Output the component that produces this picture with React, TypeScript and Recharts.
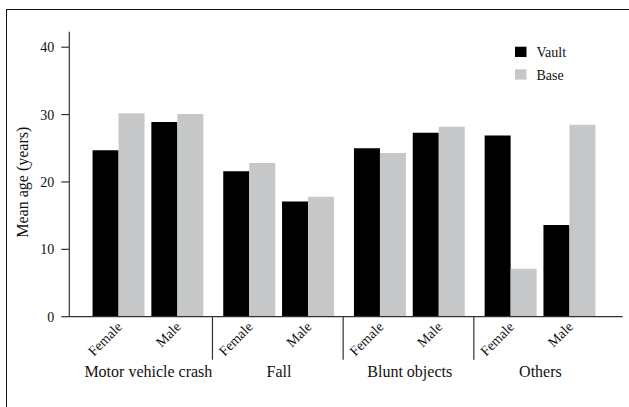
import React from 'react';
import { BarChart, Bar, XAxis, YAxis, Legend } from 'recharts';

const groups = ['Motor vehicle crash', 'Fall', 'Blunt objects', 'Others'];
const sexes = ['Female', 'Male'];
const vaultValues = [24.7, 28.9, 21.6, 17.1, 25.0, 27.3, 26.9, 13.6];
const baseValues = [30.2, 30.1, 22.8, 17.8, 24.3, 28.2, 7.1, 28.5];
const yTicks = [0, 10, 20, 30, 40];

const FONT = '"Liberation Serif", "Times New Roman", serif';
const VAULT_COLOR = '#000000';
const BASE_COLOR = '#c6c7c9';
const AXIS_COLOR = '#333333';

// layout of a group slot along the numeric x axis (one unit per group)
const SEX_OFFSET = [0.2846, 0.7345];
const X_DOMAIN = [-0.0953, 4.1389];

const data = groups.flatMap((g, gi) =>
  sexes.map((s, si) => ({
    pos: gi + SEX_OFFSET[si],
    group: g,
    sex: s,
    vault: vaultValues[gi * 2 + si],
    base: baseValues[gi * 2 + si],
  }))
);

type TickInfo = { v: number; kind: 'sex' | 'sep' | 'group'; text: string };
const tickInfo: TickInfo[] = [
  ...data.map((d) => ({ v: d.pos, kind: 'sex' as const, text: d.sex })),
  ...groups.slice(1).map((_, i) => ({ v: i + 1, kind: 'sep' as const, text: '' })),
  ...groups.map((g, gi) => ({
    v: gi + (SEX_OFFSET[0] + SEX_OFFSET[1]) / 2,
    kind: 'group' as const,
    text: g,
  })),
];
const xTicks = tickInfo.map((t) => t.v);

const XTick = (props: any) => {
  const { x, y, payload } = props;
  const info = tickInfo.find((t) => Math.abs(t.v - payload.value) < 1e-6);
  if (!info) return null;
  if (info.kind === 'sep') {
    return <line x1={x} x2={x} y1={y} y2={y + 43} stroke={AXIS_COLOR} strokeWidth={1.2} />;
  }
  if (info.kind === 'group') {
    return (
      <text x={x} y={y + 60} textAnchor="middle" fontSize={16} fontFamily={FONT} fill="#111">
        {info.text}
      </text>
    );
  }
  const tx = x + 4;
  const ty = y + 11;
  return (
    <text
      x={tx}
      y={ty}
      textAnchor="end"
      fontSize={14}
      fontFamily={FONT}
      fill="#111"
      transform={`rotate(-45, ${tx}, ${ty})`}
    >
      {info.text}
    </text>
  );
};

const YLabel = (props: any) => {
  const { viewBox } = props;
  const cx = 28;
  const cy = viewBox.y + viewBox.height / 2 + 8;
  return (
    <text
      x={cx}
      y={cy}
      textAnchor="middle"
      fontSize={16}
      fontFamily={FONT}
      fill="#111"
      transform={`rotate(-90, ${cx}, ${cy})`}
    >
      Mean age (years)
    </text>
  );
};

const legendItems = [
  { name: 'Vault', color: VAULT_COLOR },
  { name: 'Base', color: BASE_COLOR },
];

const LegendContent = () => (
  <svg width={90} height={50} style={{ display: 'block' }}>
    {legendItems.map((it, i) => (
      <g key={it.name}>
        <rect x={0} y={2.7 + i * 22.6} width={11.5} height={10.3} fill={it.color} />
        <text x={21.5} y={12.8 + i * 23.6} fontSize={14} fontFamily={FONT} fill="#111">
          {it.name}
        </text>
      </g>
    ))}
  </svg>
);

export default function App() {
  return (
    <div
      style={{
        position: 'absolute',
        left: 0,
        top: 0,
        width: 629,
        height: 407,
        overflow: 'hidden',
        background: '#fff',
      }}
    >
      <div
        style={{
          position: 'absolute',
          left: 5.5,
          top: 8.5,
          width: 800,
          height: 600,
          borderTop: '1.5px solid #111',
          borderLeft: '1.5px solid #111',
        }}
      />
      <div style={{ position: 'absolute', left: 0, top: 0 }}>
        <BarChart
          width={629}
          height={407}
          data={data}
          margin={{ top: 31.7, right: 6.3, bottom: 0, left: 0 }}
          barGap={0}
        >
          <XAxis
            dataKey="pos"
            type="number"
            domain={X_DOMAIN}
            allowDataOverflow
            ticks={xTicks}
            interval={0}
            tick={<XTick />}
            tickLine={false}
            tickSize={0}
            tickMargin={0}
            height={90.3}
            axisLine={{ stroke: AXIS_COLOR, strokeWidth: 1.2 }}
          />
          <YAxis
            type="number"
            domain={[0, 42.3]}
            allowDataOverflow
            ticks={yTicks}
            interval={0}
            width={69.3}
            tickSize={8}
            tickMargin={7}
            tick={{ fontSize: 14, fontFamily: FONT, fill: '#111' }}
            tickLine={{ stroke: AXIS_COLOR, strokeWidth: 1.2 }}
            axisLine={{ stroke: AXIS_COLOR, strokeWidth: 1.2 }}
            label={<YLabel />}
          />
          <Legend
            layout="vertical"
            align="center"
            verticalAlign="middle"
            wrapperStyle={{ left: 515, top: 44, width: 90, height: 50 }}
            content={<LegendContent />}
          />
          <Bar dataKey="vault" name="Vault" fill={VAULT_COLOR} barSize={26} isAnimationActive={false} />
          <Bar dataKey="base" name="Base" fill={BASE_COLOR} barSize={26} isAnimationActive={false} />
        </BarChart>
      </div>
    </div>
  );
}
